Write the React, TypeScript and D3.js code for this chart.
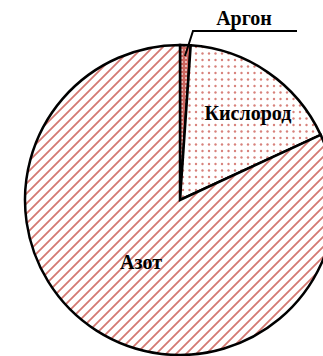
import { useMemo } from 'react'
import * as d3 from 'd3'

const W = 323
const H = 356
const CX = 180
const CY = 200
const R = 155

// clockwise from 12 o'clock, as the spreadsheet draws it
const names = ['Аргон', 'Кислород', 'Азот']
const shares = [1.1, 17, 81.9]
const fills = ['url(#argon)', 'url(#dots)', 'url(#stripes)']

const RED = '#c9574f'

export default function App() {
  const arcs = useMemo(() => d3.pie<number>().sort(null)(shares), [])
  const arc = d3.arc<d3.PieArcDatum<number>>().innerRadius(0).outerRadius(R)

  // leader for the thin slice, starting from its mid angle
  const mid = (a: d3.PieArcDatum<number>) => (a.startAngle + a.endAngle) / 2
  const polar = (ang: number, r: number): [number, number] => [Math.sin(ang) * r, -Math.cos(ang) * r]

  const tip = polar(mid(arcs[0]), R * 0.93)
  const elbow: [number, number] = [13, -169]
  const tail: [number, number] = [117, -169]

  return (
    <svg width={W} height={H} style={{ position: 'absolute', left: 0, top: 0, background: '#fff' }}
      fontFamily="'Liberation Serif', 'Times New Roman', serif">
      <defs>
        <pattern id="stripes" width={10} height={10} patternUnits="userSpaceOnUse">
          <rect width={10} height={10} fill="#fff" />
          <path d="M-2,2 L2,-2 M0,10 L10,0 M8,12 L12,8" stroke={RED} strokeWidth={1.8} strokeOpacity={0.8} />
        </pattern>
        <pattern id="dots" width={13} height={13} patternUnits="userSpaceOnUse">
          <rect width={13} height={13} fill="#fff" />
          <circle cx={3} cy={3} r={1.2} fill={RED} fillOpacity={0.75} />
          <circle cx={9.5} cy={9.5} r={1.2} fill={RED} fillOpacity={0.75} />
          <circle cx={9.5} cy={3} r={1.2} fill={RED} fillOpacity={0.75} />
          <circle cx={3} cy={9.5} r={1.2} fill={RED} fillOpacity={0.75} />
        </pattern>
        <pattern id="argon" width={4} height={4} patternUnits="userSpaceOnUse">
          <rect width={4} height={4} fill={RED} fillOpacity={0.9} />
          <circle cx={2} cy={2} r={0.9} fill="#fff" fillOpacity={0.8} />
        </pattern>
      </defs>

      <g transform={`translate(${CX},${CY})`}>
        {arcs.map((a, i) => (
          <path key={names[i]} d={arc(a) ?? ''} fill={fills[i]} stroke="#000" strokeWidth={2.5} />
        ))}

        <polyline points={[tip, elbow, tail].map(p => p.join(',')).join(' ')}
          fill="none" stroke="#000" strokeWidth={2} />

        <text x={64} y={-175} textAnchor="middle" fontSize={20} fontWeight="bold">{names[0]}</text>
        <text x={68} y={-80} textAnchor="middle" fontSize={20} fontWeight="bold">{names[1]}</text>
        <text x={-39} y={69} textAnchor="middle" fontSize={20} fontWeight="bold">{names[2]}</text>
      </g>
    </svg>
  )
}
